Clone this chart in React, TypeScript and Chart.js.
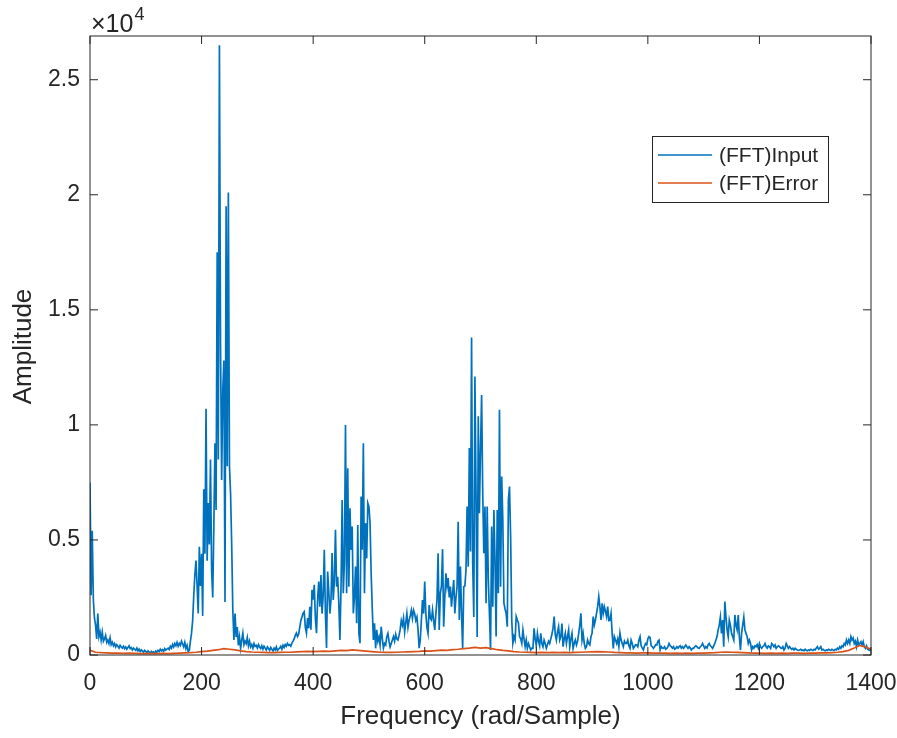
import React, { useEffect, useRef } from "react";
import { Chart, registerables } from "chart.js";

Chart.register(...registerables);

// frequency spacing of the samples (rad/Sample)
const INPUT_FREQ_STEP = 2;
const ERROR_FREQ_STEP = 10;

// (FFT)Input amplitude, f = 0, 2, 4, ... 1400
const INPUT_AMP = [
  7500, 2600, 5400, 2400, 1600, 1300, 700, 1800, 800, 1000, // 0
  650, 1000, 600, 700, 850, 550, 650, 500, 750, 450, // 20
  550, 400, 500, 350, 450, 380, 300, 420, 350, 300, // 40
  380, 280, 350, 250, 330, 400, 280, 320, 220, 300, // 60
  250, 200, 300, 180, 260, 150, 220, 170, 120, 200, // 80
  150, 100, 180, 130, 90, 160, 110, 140, 80, 170, // 100
  120, 200, 150, 250, 180, 230, 160, 280, 210, 260, // 120
  300, 240, 380, 300, 450, 350, 500, 400, 550, 380, // 140
  500, 420, 600, 480, 350, 550, 280, 420, 150, 200, // 160
  600, 950, 1500, 2600, 3500, 4100, 3000, 1800, 4700, 3000, // 180
  4400, 1700, 7200, 4400, 10700, 4100, 6600, 4800, 8500, 3700, // 200
  2500, 5600, 9200, 6300, 17500, 8500, 26500, 13400, 7600, 11500, // 220
  12800, 2300, 19500, 8200, 20100, 8200, 7000, 4800, 1950, 650, // 240
  1800, 780, 1220, 420, 780, 300, 650, 950, 450, 600, // 260
  500, 760, 400, 600, 350, 450, 300, 500, 380, 420, // 280
  300, 450, 350, 280, 400, 250, 380, 300, 220, 350, // 300
  280, 200, 330, 250, 180, 300, 220, 350, 200, 260, // 320
  300, 380, 250, 420, 330, 450, 380, 500, 420, 450, // 340
  380, 520, 600, 700, 850, 950, 800, 900, 1200, 1500, // 360
  1650, 1820, 1880, 1200, 950, 1600, 1160, 2100, 1100, 2830, // 380
  2400, 3050, 1600, 950, 2400, 3190, 2100, 3480, 1800, 2600, // 400
  4570, 1800, 300, 3630, 2760, 1800, 2400, 4430, 2390, 3200, // 420
  5440, 2970, 3400, 2250, 650, 2970, 6740, 2680, 4000, 10000, // 440
  2680, 8120, 2970, 6380, 4570, 5580, 1810, 2500, 3840, 1380, // 460
  5650, 940, 510, 6890, 4570, 9200, 2680, 5730, 4200, 6600, // 480
  6450, 5730, 3550, 2000, 650, 1380, 290, 1090, 600, 780, // 500
  435, 1230, 700, 300, 500, 435, 800, 940, 600, 350, // 520
  500, 650, 800, 600, 900, 700, 650, 850, 1100, 1500, // 540
  1300, 1600, 1000, 1400, 1800, 1200, 1500, 1700, 1950, 1600, // 560
  1950, 1800, 1500, 1650, 1100, 300, 650, 1500, 2390, 1800, // 580
  3190, 1800, 1200, 940, 2170, 1600, 1520, 1960, 1500, 1090, // 600
  1800, 2390, 4420, 1090, 2680, 3000, 4600, 1230, 2500, 3550, // 620
  2970, 3340, 2500, 2970, 2100, 2700, 3260, 1810, 2500, 2970, // 640
  5790, 1520, 3840, 1810, 290, 2970, 3000, 3700, 6450, 3840, // 660
  9000, 4500, 13800, 4000, 1650, 12100, 7000, 780, 10370, 6160, // 680
  8900, 11300, 7000, 4420, 6450, 2250, 6450, 3260, 1810, 220, // 700
  5580, 2100, 6300, 4130, 800, 6300, 2680, 10660, 2970, 7760, // 720
  5870, 2250, 2000, 1810, 1230, 6740, 7320, 5150, 1520, 510, // 740
  800, 650, 1670, 1520, 1400, 800, 700, 500, 1090, 700, // 760
  360, 650, 290, 500, 360, 220, 300, 290, 1160, 700, // 780
  400, 940, 600, 400, 940, 500, 360, 650, 500, 290, // 800
  450, 600, 500, 700, 900, 1160, 1670, 900, 650, 1000, // 820
  1230, 650, 800, 1370, 360, 700, 940, 500, 800, 1090, // 840
  360, 700, 940, 290, 500, 650, 440, 600, 940, 1300, // 860
  1810, 650, 940, 500, 290, 360, 650, 500, 440, 800, // 880
  940, 1670, 1300, 1520, 1810, 2100, 2540, 2100, 1520, 2250, // 900
  1810, 2100, 1900, 1670, 2100, 1500, 1520, 1810, 940, 290, // 920
  800, 650, 500, 700, 360, 950, 650, 500, 360, 600, // 940
  500, 500, 650, 400, 290, 650, 500, 290, 360, 450, // 960
  435, 360, 650, 800, 400, 300, 220, 400, 500, 440, // 980
  700, 800, 750, 400, 360, 290, 360, 450, 435, 600, // 1000
  650, 220, 360, 300, 290, 360, 250, 290, 360, 500, // 1020
  400, 360, 300, 360, 250, 290, 360, 300, 360, 400, // 1040
  300, 360, 290, 360, 435, 360, 290, 360, 300, 220, // 1060
  290, 290, 360, 400, 360, 300, 290, 360, 400, 500, // 1080
  400, 290, 360, 300, 450, 500, 400, 360, 290, 400, // 1100
  500, 650, 800, 1090, 1300, 1650, 940, 1520, 360, 2320, // 1120
  1670, 1090, 800, 1520, 1300, 940, 800, 650, 1740, 1300, // 1140
  1090, 1740, 800, 220, 940, 1300, 1650, 1090, 940, 800, // 1160
  500, 650, 500, 220, 360, 290, 400, 360, 450, 300, // 1180
  500, 360, 290, 360, 400, 500, 360, 300, 400, 360, // 1200
  290, 500, 450, 360, 435, 290, 360, 400, 360, 300, // 1220
  290, 360, 220, 300, 500, 400, 290, 360, 300, 250, // 1240
  290, 220, 290, 250, 220, 200, 220, 250, 200, 220, // 1260
  180, 250, 200, 180, 220, 200, 250, 220, 200, 250, // 1280
  220, 300, 360, 250, 290, 360, 220, 250, 200, 180, // 1300
  220, 200, 250, 220, 200, 250, 220, 200, 250, 220, // 1320
  300, 250, 360, 290, 400, 360, 500, 435, 650, 500, // 1340
  650, 500, 800, 650, 740, 500, 600, 360, 650, 435, // 1360
  500, 580, 435, 580, 360, 290, 400, 250, 220, 200, // 1380
  300, // 1400
];

// (FFT)Error amplitude, f = 0, 10, 20, ... 1400
const ERROR_AMP = [
  200, 120, 100, 90, 80, 80, 70, 80, 70, 60, // 0
  60, 70, 60, 70, 60, 70, 80, 90, 100, 120, // 100
  150, 170, 200, 230, 280, 250, 220, 180, 150, 130, // 200
  120, 110, 100, 100, 110, 120, 120, 140, 150, 160, // 300
  150, 160, 170, 160, 180, 200, 190, 220, 200, 180, // 400
  160, 140, 120, 110, 110, 120, 130, 140, 150, 160, // 500
  180, 170, 190, 210, 200, 230, 250, 280, 300, 330, // 600
  300, 320, 280, 230, 200, 180, 150, 130, 120, 110, // 700
  100, 110, 100, 110, 100, 110, 100, 110, 120, 130, // 800
  140, 150, 140, 130, 110, 100, 90, 90, 80, 90, // 900
  90, 80, 80, 80, 70, 80, 70, 80, 70, 80, // 1000
  80, 90, 100, 120, 130, 120, 110, 100, 90, 80, // 1100
  80, 70, 80, 70, 80, 70, 80, 80, 70, 80, // 1200
  80, 90, 90, 100, 120, 150, 200, 300, 420, 350, // 1300
  250, // 1400
];

const X_TICKS = [0, 200, 400, 600, 800, 1000, 1200, 1400];
const Y_TICKS = [0, 5000, 10000, 15000, 20000, 25000];
const X_MIN = 0;
const X_MAX = 1400;
const Y_MIN = 0;
const Y_MAX = 26900;

const SERIES_NAMES = ["(FFT)Input", "(FFT)Error"];
const SERIES_COLORS = ["#0072BD", "#D95319"];
const X_TITLE = "Frequency (rad/Sample)";
const Y_TITLE = "Amplitude";

const FONT = '"Liberation Sans", Arial, Helvetica, sans-serif';
const AX = "#262626";

const matlabPlugin = {
  id: "matlabAxes",
  afterDatasetsDraw(chart: any) {
    const { ctx, chartArea: a, scales } = chart;
    ctx.save();
    ctx.strokeStyle = AX;
    ctx.lineWidth = 1;
    ctx.strokeRect(a.left, a.top, a.right - a.left, a.bottom - a.top);
    const TL = 8;
    ctx.beginPath();
    for (const v of X_TICKS) {
      const x = scales.x.getPixelForValue(v);
      ctx.moveTo(x, a.bottom);
      ctx.lineTo(x, a.bottom - TL);
      ctx.moveTo(x, a.top);
      ctx.lineTo(x, a.top + TL);
    }
    for (const v of Y_TICKS) {
      const y = scales.y.getPixelForValue(v);
      ctx.moveTo(a.left, y);
      ctx.lineTo(a.left + TL, y);
      ctx.moveTo(a.right, y);
      ctx.lineTo(a.right - TL, y);
    }
    ctx.stroke();
    ctx.restore();
  },
  afterDraw(chart: any) {
    const { ctx, chartArea: a } = chart;
    ctx.save();
    ctx.fillStyle = AX;
    // exponent label
    ctx.textAlign = "left";
    ctx.textBaseline = "alphabetic";
    ctx.font = `25px ${FONT}`;
    const base = "\u00D710";
    ctx.fillText(base, a.left + 1, a.top - 4);
    const w = ctx.measureText(base).width;
    ctx.font = `18px ${FONT}`;
    ctx.fillText("4", a.left + 1 + w + 1, a.top - 16);

    // axis titles
    ctx.font = `26px ${FONT}`;
    ctx.textAlign = "center";
    ctx.fillText(X_TITLE, (a.left + a.right) / 2, 724);
    ctx.save();
    ctx.translate(31, (a.top + a.bottom) / 2 + 1);
    ctx.rotate(-Math.PI / 2);
    ctx.fillText(Y_TITLE, 0, 0);
    ctx.restore();

    // legend
    const lx = 652.5, ly = 136.5, lw = 176, lh = 66;
    ctx.fillStyle = "#ffffff";
    ctx.fillRect(lx, ly, lw, lh);
    ctx.strokeStyle = AX;
    ctx.lineWidth = 1;
    ctx.strokeRect(lx, ly, lw, lh);
    const rows = [155, 183];
    ctx.font = `21px ${FONT}`;
    ctx.textAlign = "left";
    ctx.textBaseline = "middle";
    SERIES_NAMES.forEach((name, i) => {
      ctx.strokeStyle = SERIES_COLORS[i];
      ctx.lineWidth = 1.5;
      ctx.beginPath();
      ctx.moveTo(658, rows[i]);
      ctx.lineTo(712, rows[i]);
      ctx.stroke();
      ctx.fillStyle = AX;
      ctx.fillText(name, 719, rows[i] + 1);
    });
    ctx.restore();
  },
};

export default function App() {
  const ref = useRef<HTMLCanvasElement | null>(null);

  useEffect(() => {
    if (!ref.current) return;
    const inputData = INPUT_AMP.map((y, i) => ({ x: i * INPUT_FREQ_STEP, y }));
    const errorData = ERROR_AMP.map((y, i) => ({ x: i * ERROR_FREQ_STEP, y }));
    const chart = new Chart(ref.current, {
      type: "line",
      data: {
        datasets: [
          {
            label: SERIES_NAMES[0],
            data: inputData,
            borderColor: SERIES_COLORS[0],
            borderWidth: 1.7,
            pointRadius: 0,
            tension: 0,
            order: 1,
          },
          {
            label: SERIES_NAMES[1],
            data: errorData,
            borderColor: SERIES_COLORS[1],
            borderWidth: 1.7,
            pointRadius: 0,
            tension: 0,
            order: 0,
          },
        ],
      },
      options: {
        animation: false,
        responsive: false,
        devicePixelRatio: 1,
        layout: { padding: { left: 0, top: 36, right: 26, bottom: 0 } },
        plugins: {
          legend: { display: false },
          tooltip: { enabled: false },
        },
        scales: {
          x: {
            type: "linear",
            min: X_MIN,
            max: X_MAX,
            afterBuildTicks: (s: any) => {
              s.ticks = X_TICKS.map((v) => ({ value: v }));
            },
            afterFit: (s: any) => {
              s.height = 83;
              s.paddingLeft = 0;
              s.paddingRight = 0;
            },
            ticks: {
              autoSkip: false,
              maxRotation: 0,
              padding: 15,
              color: AX,
              font: { family: FONT, size: 23 },
              callback: (v: any) => String(v),
            },
            grid: { display: false, drawTicks: false },
            border: { display: false },
          },
          y: {
            type: "linear",
            min: Y_MIN,
            max: Y_MAX,
            afterBuildTicks: (s: any) => {
              s.ticks = Y_TICKS.map((v) => ({ value: v }));
            },
            afterFit: (s: any) => {
              s.width = 90;
              s.paddingTop = 0;
              s.paddingBottom = 0;
            },
            ticks: {
              autoSkip: false,
              padding: 10,
              color: AX,
              font: { family: FONT, size: 23 },
              callback: (v: any) => String(v / 10000),
            },
            grid: { display: false, drawTicks: false },
            border: { display: false },
          },
        },
      },
      plugins: [matlabPlugin],
    });
    return () => chart.destroy();
  }, []);

  return (
    <div style={{ position: "fixed", left: 0, top: 0, width: 897, height: 738, background: "#ffffff" }}>
      <canvas ref={ref} width={897} height={738} style={{ display: "block" }} />
    </div>
  );
}
